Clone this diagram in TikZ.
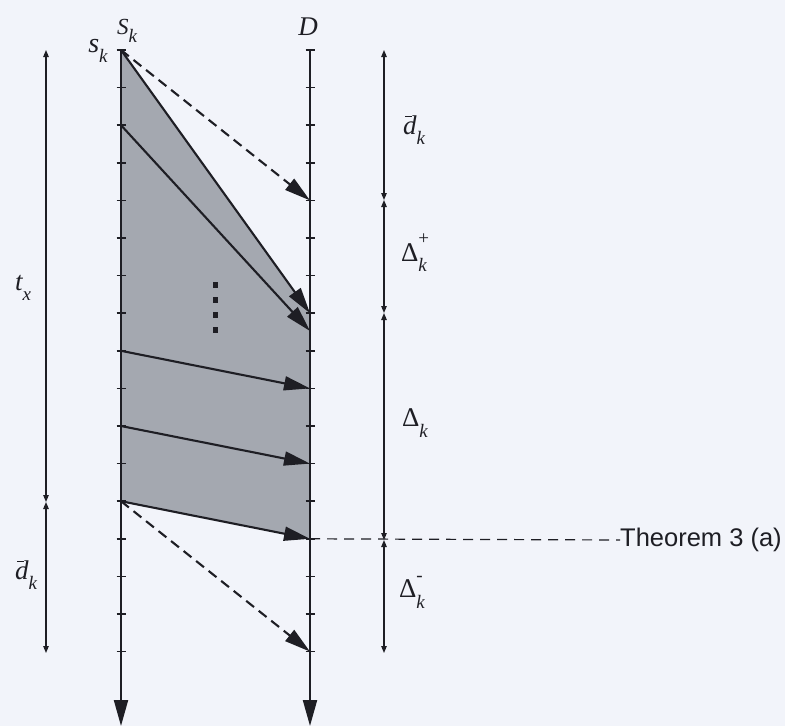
\documentclass[tikz,border=0pt]{standalone}
\usepackage{fontspec}
\newfontfamily\thmfont{Liberation Sans}
\newfontfamily\tms{Liberation Serif}
\usetikzlibrary{arrows.meta}
\definecolor{bg}{RGB}{242,244,250}
\definecolor{shadecol}{RGB}{164,168,176}
\definecolor{ink}{RGB}{30,30,36}
\newcommand\lsub[1]{\raisebox{-0.38em}{\fontsize{19}{19}\selectfont\itshape #1}}
\newcommand\lsupsub[2]{\makebox[0pt][l]{\raisebox{0.62em}{\fontsize{19}{19}\selectfont\upshape #1}}\lsub{#2}}
\newcommand\dbar{\makebox[0pt][l]{\hspace{0.08em}\raisebox{0.64em}{\rule{0.26em}{0.045em}}}\itshape d}
\begin{document}
\begin{tikzpicture}[x=1pt,y=-1pt,
  axisline/.style={draw=ink,line width=2.1pt,-{Triangle[length=26pt,width=14pt]}},
  tickmark/.style={draw=ink,line width=1.5pt},
  msg/.style={draw=ink,line width=2.1pt,-{Triangle[length=26pt,width=14pt]}},
  msgdash/.style={msg,dash pattern=on 10pt off 6pt},
  meas/.style={draw=ink,line width=1.1pt,{Triangle[length=7pt,width=5.5pt]}-{Triangle[length=7pt,width=5.5pt]}},
  lab/.style={inner sep=0pt,text=ink,font=\tms\fontsize{27}{30}\selectfont},
  dotsq/.style={fill=ink}]
\fill[bg] (0,0) rectangle (785,726);
\useasboundingbox (0,0) rectangle (785,726);
% tick coordinates
\foreach \i in {0,...,16}{
  \coordinate (s\i) at (121,{50+37.6*\i});
  \coordinate (d\i) at (310,{50+37.6*\i});
}
\coordinate (d7h) at (310,331);
\coordinate (send) at (121,726);
\coordinate (dend) at (310,726);
% shaded region
\fill[shadecol] (s0) -- (d7) -- (d13) -- (s12) -- cycle;
% main axes
\draw[axisline] (s0) -- (send);
\draw[axisline] (d0) -- (dend);
\foreach \i in {0,...,16}{
  \draw[tickmark] ([xshift=-4.5pt]s\i) -- ([xshift=4.5pt]s\i);
  \draw[tickmark] ([xshift=-4.5pt]d\i) -- ([xshift=4.5pt]d\i);
}
% messages
\draw[msgdash] (s0) -- (d4);
\draw[msg] (s0) -- (d7);
\draw[msg] (s2) -- (d7h);
\draw[msg] (s8) -- (d9);
\draw[msg] (s10) -- (d11);
\draw[msg] (s12) -- (d13);
\draw[msgdash] (s12) -- (d16);
% vertical dots
\foreach \y in {282,297,312,327}
  \fill[dotsq] (213,\y) rectangle (218,\y+5.5);
% right measurement axis
\coordinate (m0) at (384,50);
\coordinate (m1) at (384,200);
\coordinate (m2) at (384,313);
\coordinate (m3) at (384,540);
\coordinate (m4) at (384,653);
\draw[meas] (m0) -- (m1);
\draw[meas] (m1) -- (m2);
\draw[meas] (m2) -- (m3);
\draw[meas] (m3) -- (m4);
% left measurement axis
\coordinate (l0) at (46,50);
\coordinate (l1) at (46,502);
\coordinate (l2) at (46,653);
\draw[meas] (l0) -- (l1);
\draw[meas] (l1) -- (l2);
% theorem line
\node[anchor=west,inner sep=0pt,text=ink,font=\thmfont\fontsize{25.5}{28}\selectfont] (thm) at (620,540) {Theorem 3 (a)};
\draw[draw=ink,line width=1.2pt,dash pattern=on 10pt off 7pt] (d13) -- (thm.west);
% labels
\node[lab,font=\tms\fontsize{23}{26}\selectfont] (Sk) at (127,31) {\itshape S\lsub{k}};
\node[lab,font=\tms\fontsize{28}{30}\selectfont] (sklab) at (98,51) {\itshape s\lsub{k}};
\node[lab] (Dlab) at (308,27) {\itshape D};
\node[lab] (dk1) at (414,130) {\dbar\lsub{k}};
\node[lab] (dplus) at (414,253) {Δ\lsupsub{+}{k}};
\node[lab] (delta) at (415,423) {Δ\lsub{k}};
\node[lab] (dminus) at (412,592) {Δ\lsupsub{-}{k}};
\node[lab] (tx) at (23,288) {\itshape t\lsub{x}};
\node[lab] (dk2) at (26,575) {\dbar\lsub{k}};
\end{tikzpicture}
\end{document}
